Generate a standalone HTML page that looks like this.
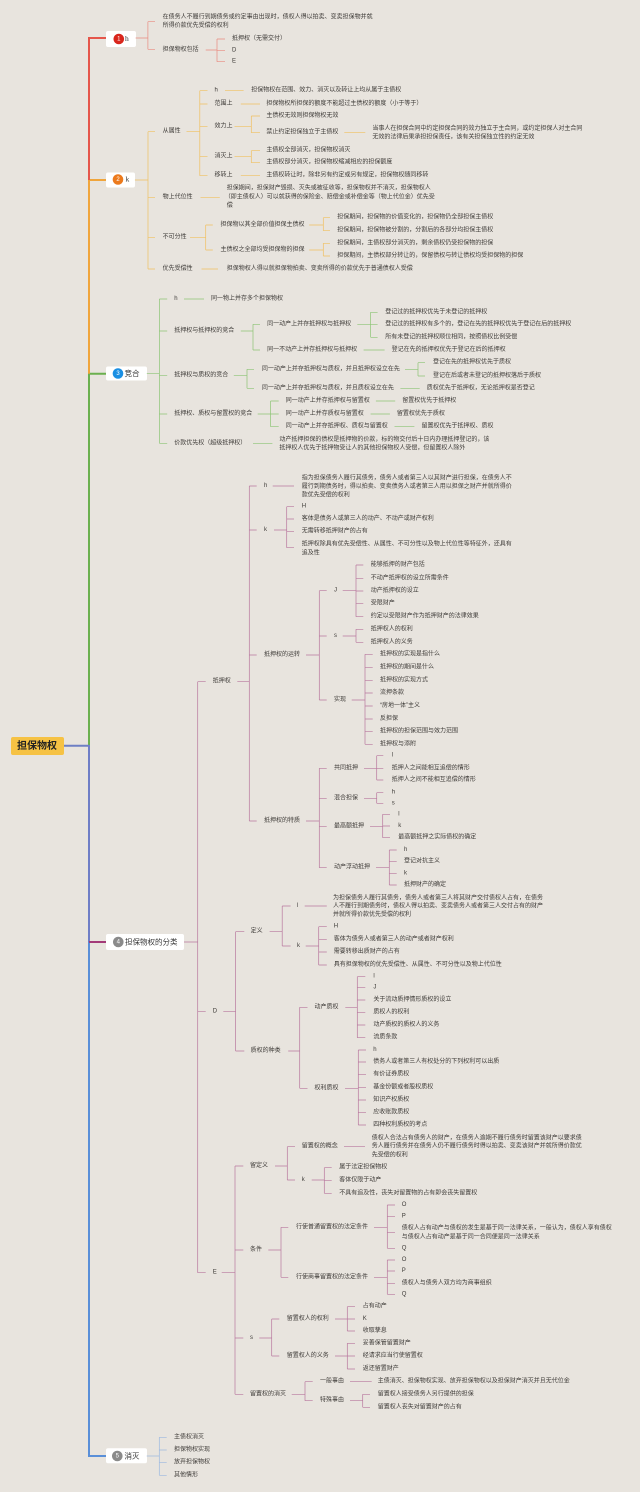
<!DOCTYPE html>
<html><head><meta charset="utf-8">
<style>
html,body{margin:0;padding:0;background:#e8e4de;}
svg{display:block;}
text{font-family:"Liberation Sans","Noto Sans CJK SC",sans-serif;font-size:6px;fill:#3d3a37;dominant-baseline:central;}
.b{font-size:7.5px;fill:#333;}
.n{font-size:6px;fill:#fff;text-anchor:middle;}
.root{font-size:10px;font-weight:bold;fill:#222;}
.sub{fill:none;stroke-width:0.7;}
</style></head>
<body>
<svg width="640" height="1492" viewBox="0 0 640 1492" xmlns="http://www.w3.org/2000/svg">
<rect width="640" height="1492" fill="#e8e4de"/>

<!-- trunk -->
<g fill="none" stroke-width="2">
<path d="M89 745 V373.7 H106.8" stroke="#6bb04f"/>
<path d="M89 373.7 V180 H106.8" stroke="#f0a53c"/>
<path d="M89 180 V38 H106.8" stroke="#e5564b"/>
<path d="M64 745.7 H89" stroke="#6d7fc4"/>
<path d="M89 745 V942" stroke="#6f7ec6"/>
<path d="M89 942 V1456 H106" stroke="#5a8fd8"/>
<path d="M89 942 H106" stroke="#a33a78"/>
</g>

<!-- root -->
<rect x="11" y="737" width="53" height="18" rx="2" fill="#f6c244"/>
<text class="root" x="17" y="746.5">担保物权</text>

<!-- branch boxes -->
<rect x="106" y="31" width="30" height="16" rx="2" fill="#fff"/>
<circle cx="118.8" cy="39" r="5.3" fill="#d9261c"/><text class="n" x="118.8" y="39.3">1</text>
<text class="b" x="125" y="38.5" style="font-family:'Liberation Serif',serif">h</text>

<rect x="106" y="172.5" width="29" height="15" rx="2" fill="#fff"/>
<circle cx="118" cy="179.5" r="5.3" fill="#ec7a1c"/><text class="n" x="118" y="179.8">2</text>
<text class="b" x="125.5" y="179" style="font-family:'Liberation Serif',serif">k</text>

<rect x="106" y="366.5" width="41" height="14" rx="2" fill="#fff"/>
<circle cx="118" cy="373.5" r="5.3" fill="#1a8fe3"/><text class="n" x="118" y="373.8">3</text>
<text class="b" x="124.5" y="373.5">竞合</text>

<rect x="106" y="934" width="78" height="16" rx="2" fill="#fff"/>
<circle cx="118.3" cy="942" r="5.3" fill="#8a8a8a"/><text class="n" x="118.3" y="942.3">4</text>
<text class="b" x="125" y="942">担保物权的分类</text>

<rect x="106" y="1448.3" width="41" height="15" rx="2" fill="#fff"/>
<circle cx="117.3" cy="1456" r="5.3" fill="#8a8a8a"/><text class="n" x="117.3" y="1456.3">5</text>
<text class="b" x="124.5" y="1456">消灭</text>

<!-- ===== Branch 1 ===== -->
<path class="sub" stroke="#e98b80" d="M135.6 38 H147.9 M147.9 21.7 V49.3 M147.9 21.7 H155 M147.9 49.3 H155
M205.7 50 H217 M217 39 V61.7 M217 39 H225 M217 50.7 H225 M217 61.7 H225"/>
<text x="162.6" y="17.3">在债务人不履行到期债务或约定事由出现时，债权人得以拍卖、变卖担保物并就</text>
<text x="162.6" y="26">所得价款优先受偿的权利</text>
<text x="162.6" y="50">担保物权包括</text>
<text x="232" y="39">抵押权（无需交付）</text>
<text x="232" y="50.7">D</text>
<text x="232" y="61.7">E</text>

<!-- ===== Branch 2 ===== -->
<path class="sub" stroke="#f0c060" d="M134.9 180 H148 M148 131.7 V269 M148 131.7 H155 M148 197.3 H155 M148 237.7 H155 M148 269 H155
M186.5 131.7 H199.8 M199.8 90.7 V175.7 M199.8 90.7 H207.5 M199.8 104 H207.5 M199.8 126.7 H207.5 M199.8 156.7 H207.5 M199.8 175.7 H207.5
M225 90.7 H243.6 M240.8 104 H260
M234.5 126.7 H251.3 M251.3 116 V132.7 M251.3 116 H260 M251.3 132.7 H260 M344.3 132.7 H365.3
M234.5 156.7 H251.3 M251.3 150.7 V162.7 M251.3 150.7 H260 M251.3 162.7 H260
M240.8 175.7 H260
M200.5 197.3 H219.8
M190 237.7 H205.7 M205.7 225 V250 M205.7 225 H212.8 M205.7 250 H212.8
M309.2 225 H323.3 M323.3 217.7 V230.7 M323.3 217.7 H330 M323.3 230.7 H330
M309.2 250 H323.3 M323.3 243.3 V256 M323.3 243.3 H330 M323.3 256 H330
M201.5 269 H218"/>
<text x="162.6" y="131.7">从属性</text>
<text x="162.6" y="197.3">物上代位性</text>
<text x="162.6" y="237.7">不可分性</text>
<text x="162.6" y="269">优先受偿性</text>
<text x="214.5" y="90.7">h</text>
<text x="214.5" y="104">范围上</text>
<text x="214.5" y="126.7">效力上</text>
<text x="214.5" y="156.7">消灭上</text>
<text x="214.5" y="175.7">移转上</text>
<text x="251.3" y="90.7">担保物权在范围、效力、消灭以及转让上均从属于主债权</text>
<text x="266.4" y="104">担保物权所担保的额度不能超过主债权的额度（小于等于）</text>
<text x="266.4" y="116">主债权无效则担保物权无效</text>
<text x="266.4" y="132.7">禁止约定担保独立于主债权</text>
<text x="372.4" y="129">当事人在担保合同中约定担保合同的效力独立于主合同，或约定担保人对主合同</text>
<text x="372.4" y="137.3">无效的法律后果承担担保责任，该有关担保独立性的约定无效</text>
<text x="266.4" y="150.7">主债权全部消灭，担保物权消灭</text>
<text x="266.4" y="162.7">主债权部分消灭，担保物权缩减相应的担保额度</text>
<text x="266.4" y="175.7">主债权转让时，除非另有约定或另有规定，担保物权随同移转</text>
<text x="226.8" y="188.3">担保期间，担保财产毁损、灭失或被征收等，担保物权并不消灭，担保物权人</text>
<text x="224.8" y="197.3">（即主债权人）可以就获得的保险金、赔偿金或补偿金等（物上代位金）优先受</text>
<text x="226.8" y="206">偿</text>
<text x="220.5" y="225">担保物以其全部价值担保主债权</text>
<text x="220.5" y="250">主债权之全部均受担保物的担保</text>
<text x="337.3" y="217.7">担保期间，担保物的价值变化的，担保物仍全部担保主债权</text>
<text x="337.3" y="230.7">担保期间，担保物被分割的，分割后的各部分均担保主债权</text>
<text x="337.3" y="243.3">担保期间，主债权部分消灭的，剩余债权仍受担保物的担保</text>
<text x="337.3" y="256">担保期间，主债权部分转让的，保留债权与转让债权均受担保物的担保</text>
<text x="226.8" y="269">担保物权人得以就担保物拍卖、变卖所得的价款优先于普通债权人受偿</text>

<!-- ===== Branch 3 ===== -->
<path class="sub" stroke="#8cc474" d="M146.8 373.7 H159.4 M159.4 299 V443.3 M159.4 299 H167.2 M159.4 331 H167.2 M159.4 375.7 H167.2 M159.4 414 H167.2 M159.4 443.3 H167.2
M184 299 H204
M240.8 331 H253 M253 324.3 V350 M253 324.3 H260 M253 350 H260
M357.3 324.3 H370.6 M370.6 312.3 V337.3 M370.6 312.3 H377.6 M370.6 324.7 H377.6 M370.6 337.3 H377.6
M363.6 350 H384.6
M233.8 375.7 H247 M247 369.3 V388.3 M247 369.3 H254 M247 388.3 H254
M405 369.3 H418 M418 362.7 V376 M418 362.7 H425 M418 376 H425
M400.4 388.3 H419.7
M257.7 414 H270.6 M270.6 401 V426.7 M270.6 401 H278.7 M270.6 414 H278.7 M270.6 426.7 H278.7
M375.9 401 H395.2 M370.6 414 H389.9 M394.5 426.7 H414.4
M253 443.3 H272.4"/>
<text x="174.2" y="299">h</text>
<text x="174.2" y="331">抵押权与抵押权的竞合</text>
<text x="174.2" y="375.7">抵押权与质权的竞合</text>
<text x="174.2" y="414">抵押权、质权与留置权的竞合</text>
<text x="174.2" y="443.3">价款优先权（超级抵押权）</text>
<text x="211" y="299">同一物上并存多个担保物权</text>
<text x="267.1" y="324.3">同一动产上并存抵押权与抵押权</text>
<text x="267.1" y="350">同一不动产上并存抵押权与抵押权</text>
<text x="385.3" y="312.3">登记过的抵押权优先于未登记的抵押权</text>
<text x="385.3" y="324.7">登记过的抵押权有多个的，登记在先的抵押权优先于登记在后的抵押权</text>
<text x="385.3" y="337.3">所有未登记的抵押权顺位相同，按照债权比例受偿</text>
<text x="391.6" y="350">登记在先的抵押权优先于登记在后的抵押权</text>
<text x="261.9" y="369.3">同一动产上并存抵押权与质权，并且抵押权设立在先</text>
<text x="261.9" y="388.3">同一动产上并存抵押权与质权，并且质权设立在先</text>
<text x="433" y="362.7">登记在先的抵押权优先于质权</text>
<text x="433" y="376">登记在后或者未登记的抵押权落后于质权</text>
<text x="426.7" y="388.3">质权优先于抵押权，无论抵押权是否登记</text>
<text x="285.7" y="401">同一动产上并存抵押权与留置权</text>
<text x="285.7" y="414">同一动产上并存质权与留置权</text>
<text x="285.7" y="426.7">同一动产上并存抵押权、质权与留置权</text>
<text x="402.2" y="401">留置权优先于抵押权</text>
<text x="396.9" y="414">留置权优先于质权</text>
<text x="421.5" y="426.7">留置权优先于抵押权、质权</text>
<text x="279.4" y="440">动产抵押担保的债权是抵押物的价款，标的物交付后十日内办理抵押登记的，该</text>
<text x="279.4" y="448.3">抵押权人优先于抵押物受让人的其他担保物权人受偿，但留置权人除外</text>

<!-- ===== Branch 4 ===== -->
<path class="sub" stroke="#b8779e" d="M184 942 H197.7 M197.7 681.7 V1272.7 M197.7 681.7 H205.7 M197.7 1011.7 H205.7 M197.7 1272.7 H205.7
M237.3 681.7 H249.3 M249.3 486 V821 M249.3 486 H256.7 M249.3 530 H256.7 M249.3 655 H256.7 M249.3 821 H256.7
M272.7 486 H294
M274 530 H286.7 M286.7 506.7 V547.7 M286.7 506.7 H294 M286.7 519 H294 M286.7 531.7 H294 M286.7 547.7 H294
M306 655 H319.3 M319.3 590.7 V700 M319.3 590.7 H326.7 M319.3 636 H326.7 M319.3 700 H326.7
M342.7 590.7 H356 M356 565 V616.7 M356 565 H363.3 M356 578.3 H363.3 M356 591 H363.3 M356 603.7 H363.3 M356 616.7 H363.3
M342.7 636 H356 M356 629.3 V642.3 M356 629.3 H363.3 M356 642.3 H363.3
M351.7 700 H365 M365 654.3 V744.3 M365 654.3 H372.7 M365 667.7 H372.7 M365 680.7 H372.7 M365 693 H372.7 M365 706 H372.7 M365 719 H372.7 M365 731.7 H372.7 M365 744.3 H372.7
M306 821 H319.3 M319.3 768.3 V867.7 M319.3 768.3 H326.7 M319.3 798.3 H326.7 M319.3 826.7 H326.7 M319.3 867.7 H326.7
M364 768.3 H376.7 M376.7 755.7 V780 M376.7 755.7 H383.3 M376.7 768.3 H383.3 M376.7 780 H383.3
M364 798.3 H376.7 M376.7 792.7 V803.3 M376.7 792.7 H383.3 M376.7 803.3 H383.3
M370 826.7 H382.7 M382.7 814.3 V837.7 M382.7 814.3 H390 M382.7 826 H390 M382.7 837.7 H390
M376 867.7 H389.3 M389.3 850 V885 M389.3 850 H396.7 M389.3 861.7 H396.7 M389.3 873.3 H396.7 M389.3 885 H396.7
M223.3 1011.7 H235.6 M235.6 931.7 V1051 M235.6 931.7 H244.3 M235.6 1051 H244.3
M269.6 931.7 H282.2 M282.2 906 V946 M282.2 906 H290.6 M282.2 946 H290.6
M304.7 906 H326.8
M305.7 946 H318.7 M318.7 926.7 V965 M318.7 926.7 H326.8 M318.7 939.3 H326.8 M318.7 952 H326.8 M318.7 965 H326.8
M288.2 1051 H299.7 M299.7 1007.3 V1088.3 M299.7 1007.3 H307.5 M299.7 1088.3 H307.5
M345.3 1007.3 H357.3 M357.3 976.7 V1037.7 M357.3 976.7 H365.3 M357.3 987.3 H365.3 M357.3 1000 H365.3 M357.3 1012.7 H365.3 M357.3 1025 H365.3 M357.3 1037.7 H365.3
M345 1088.3 H358.3 M358.3 1050 V1125 M358.3 1050 H366 M358.3 1062 H366 M358.3 1074.7 H366 M358.3 1087.3 H366 M358.3 1100 H366 M358.3 1112.7 H366 M358.3 1125 H366
M221.7 1272.7 H235 M235 1166 V1394.3 M235 1166 H243.3 M235 1250 H243.3 M235 1338 H243.3 M235 1394.3 H243.3
M275 1166 H287.3 M287.3 1146.7 V1180 M287.3 1146.7 H295 M287.3 1180 H295
M344 1146.7 H365
M311.7 1180 H324.3 M324.3 1167.7 V1193.3 M324.3 1167.7 H331.7 M324.3 1180.7 H331.7 M324.3 1193.3 H331.7
M268.3 1250 H281 M281 1227.3 V1277.3 M281 1227.3 H288.3 M281 1277.3 H288.3
M374 1227.3 H387.3 M387.3 1205 V1248.3 M387.3 1205 H395 M387.3 1216.7 H395 M387.3 1232.7 H395 M387.3 1248.3 H395
M374 1277.3 H387.3 M387.3 1260 V1294.3 M387.3 1260 H395 M387.3 1271 H395 M387.3 1283.3 H395 M387.3 1294.3 H395
M259.3 1338 H271.7 M271.7 1319 V1356 M271.7 1319 H279.3 M271.7 1356 H279.3
M335 1319 H347.3 M347.3 1306.7 V1331 M347.3 1306.7 H355 M347.3 1319 H355 M347.3 1331 H355
M335 1356 H347.3 M347.3 1343.3 V1369 M347.3 1343.3 H355 M347.3 1356 H355 M347.3 1369 H355
M291.7 1394.3 H305 M305 1381.7 V1400.7 M305 1381.7 H312.7 M305 1400.7 H312.7
M350 1381.7 H371.7
M350 1400.7 H362.7 M362.7 1394.3 V1407.3 M362.7 1394.3 H370 M362.7 1407.3 H370"/>
<text x="212.7" y="681.7">抵押权</text>
<text x="212.7" y="1011.7">D</text>
<text x="212.7" y="1272.7">E</text>
<text x="264" y="486">h</text>
<text x="264" y="530">k</text>
<text x="264" y="655">抵押权的运转</text>
<text x="264" y="821">抵押权的特质</text>
<text x="301.7" y="478.3">指为担保债务人履行其债务，债务人或者第三人以其财产进行担保，在债务人不</text>
<text x="301.7" y="487">履行到期债务时，得以拍卖、变卖债务人或者第三人用以担保之财产并就所得价</text>
<text x="301.7" y="495.7">款优先受偿的权利</text>
<text x="301.7" y="506.7">H</text>
<text x="301.7" y="519">客体是债务人或第三人的动产、不动产或财产权利</text>
<text x="301.7" y="531.7">无需转移抵押财产的占有</text>
<text x="301.7" y="544.3">抵押权除具有优先受偿性、从属性、不可分性以及物上代位性等特征外，还具有</text>
<text x="301.7" y="553.3">追及性</text>
<text x="334" y="590.7">J</text>
<text x="334" y="636">s</text>
<text x="334" y="700">实现</text>
<text x="370.7" y="565">能够抵押的财产包括</text>
<text x="370.7" y="578.3">不动产抵押权的设立所需条件</text>
<text x="370.7" y="591">动产抵押权的设立</text>
<text x="370.7" y="603.7">受限财产</text>
<text x="370.7" y="616.7">约定以受限财产作为抵押财产的法律效果</text>
<text x="370.7" y="629.3">抵押权人的权利</text>
<text x="370.7" y="642.3">抵押权人的义务</text>
<text x="380" y="654.3">抵押权的实现是指什么</text>
<text x="380" y="667.7">抵押权的期间是什么</text>
<text x="380" y="680.7">抵押权的实现方式</text>
<text x="380" y="693">流押条款</text>
<text x="380" y="706">“房地一体”主义</text>
<text x="380" y="719">反担保</text>
<text x="380" y="731.7">抵押权的担保范围与效力范围</text>
<text x="380" y="744.3">抵押权与添附</text>
<text x="334" y="768.3">共同抵押</text>
<text x="334" y="798.3">混合担保</text>
<text x="334" y="826.7">最高额抵押</text>
<text x="334" y="867.7">动产浮动抵押</text>
<text x="391.7" y="755.7">l</text>
<text x="391.7" y="768.3">抵押人之间能相互追偿的情形</text>
<text x="391.7" y="780">抵押人之间不能相互追偿的情形</text>
<text x="391.7" y="792.7">h</text>
<text x="391.7" y="803.3">s</text>
<text x="398.3" y="814.3">l</text>
<text x="398.3" y="826">k</text>
<text x="398.3" y="837.7">最高额抵押之实际债权的确定</text>
<text x="404" y="850">h</text>
<text x="404" y="861.7">登记对抗主义</text>
<text x="404" y="873.3">k</text>
<text x="404" y="885">抵押财产的确定</text>
<text x="250.6" y="931.7">定义</text>
<text x="250.6" y="1051">质权的种类</text>
<text x="297" y="906">l</text>
<text x="297" y="946">k</text>
<text x="333" y="898.3">为担保债务人履行其债务，债务人或者第三人将其财产交付债权人占有，在债务</text>
<text x="333" y="906.7">人不履行到期债务时，债权人得以拍卖、变卖债务人或者第三人交付占有的财产</text>
<text x="333" y="915">并就所得价款优先受偿的权利</text>
<text x="333.8" y="926.7">H</text>
<text x="333.8" y="939.3">客体为债务人或者第三人的动产或者财产权利</text>
<text x="333.8" y="952">需要转移出质财产的占有</text>
<text x="333.8" y="965">具有担保物权的优先受偿性、从属性、不可分性以及物上代位性</text>
<text x="314.5" y="1007.3">动产质权</text>
<text x="314.5" y="1088.3">权利质权</text>
<text x="373.4" y="976.7">l</text>
<text x="373.4" y="987.3">J</text>
<text x="373.4" y="1000">关于流动质押情形质权的设立</text>
<text x="373.4" y="1012.7">质权人的权利</text>
<text x="373.4" y="1025">动产质权的质权人的义务</text>
<text x="373.4" y="1037.7">流质条款</text>
<text x="373.3" y="1050">h</text>
<text x="373.3" y="1062">债务人或者第三人有权处分的下列权利可以出质</text>
<text x="373.3" y="1074.7">有价证券质权</text>
<text x="373.3" y="1087.3">基金份额或者股权质权</text>
<text x="373.3" y="1100">知识产权质权</text>
<text x="373.3" y="1112.7">应收账款质权</text>
<text x="373.3" y="1125">四种权利质权的考点</text>
<text x="250" y="1166">留定义</text>
<text x="250" y="1250">条件</text>
<text x="250" y="1338">s</text>
<text x="250" y="1394.3">留置权的消灭</text>
<text x="301.7" y="1146.7">留置权的概念</text>
<text x="301.7" y="1180">k</text>
<text x="371.7" y="1138.3">债权人合法占有债务人的财产，在债务人逾期不履行债务时留置该财产以要求债</text>
<text x="371.7" y="1146.7">务人履行债务并在债务人仍不履行债务时得以拍卖、变卖该财产并就所得价款优</text>
<text x="371.7" y="1155.7">先受偿的权利</text>
<text x="339.3" y="1167.7">属于法定担保物权</text>
<text x="339.3" y="1180.7">客体仅限于动产</text>
<text x="339.3" y="1193.3">不具有追及性，丧失对留置物的占有即会丧失留置权</text>
<text x="296" y="1227.3">行使普通留置权的法定条件</text>
<text x="296" y="1277.3">行使商事留置权的法定条件</text>
<text x="401.7" y="1205">O</text>
<text x="401.7" y="1216.7">P</text>
<text x="401.7" y="1228.3">债权人占有动产与债权的发生是基于同一法律关系，一般认为，债权人享有债权</text>
<text x="401.7" y="1237.3">与债权人占有动产是基于同一合同便是同一法律关系</text>
<text x="401.7" y="1248.3">Q</text>
<text x="401.7" y="1260">O</text>
<text x="401.7" y="1271">P</text>
<text x="401.7" y="1283.3">债权人与债务人双方均为商事组织</text>
<text x="401.7" y="1294.3">Q</text>
<text x="286.7" y="1319">留置权人的权利</text>
<text x="286.7" y="1356">留置权人的义务</text>
<text x="362.7" y="1306.7">占有动产</text>
<text x="362.7" y="1319">K</text>
<text x="362.7" y="1331">收取孳息</text>
<text x="362.7" y="1343.3">妥善保管留置财产</text>
<text x="362.7" y="1356">经请求应当行使留置权</text>
<text x="362.7" y="1369">返还留置财产</text>
<text x="320" y="1381.7">一般事由</text>
<text x="320" y="1400.7">特殊事由</text>
<text x="377.7" y="1381.7">主债消灭、担保物权实现、放弃担保物权以及担保财产消灭并且无代位金</text>
<text x="377.7" y="1394.3">留置权人接受债务人另行提供的担保</text>
<text x="377.7" y="1407.3">留置权人丧失对留置财产的占有</text>

<!-- ===== Branch 5 ===== -->
<path class="sub" stroke="#9cb8e0" d="M146.7 1456 H159.3 M159.3 1437.3 V1475.3 M159.3 1437.3 H166.7 M159.3 1450 H166.7 M159.3 1462.7 H166.7 M159.3 1475.3 H166.7"/>
<text x="174" y="1437.3">主债权消灭</text>
<text x="174" y="1450">担保物权实现</text>
<text x="174" y="1462.7">放弃担保物权</text>
<text x="174" y="1475.3">其他情形</text>
</svg>
</body></html>
